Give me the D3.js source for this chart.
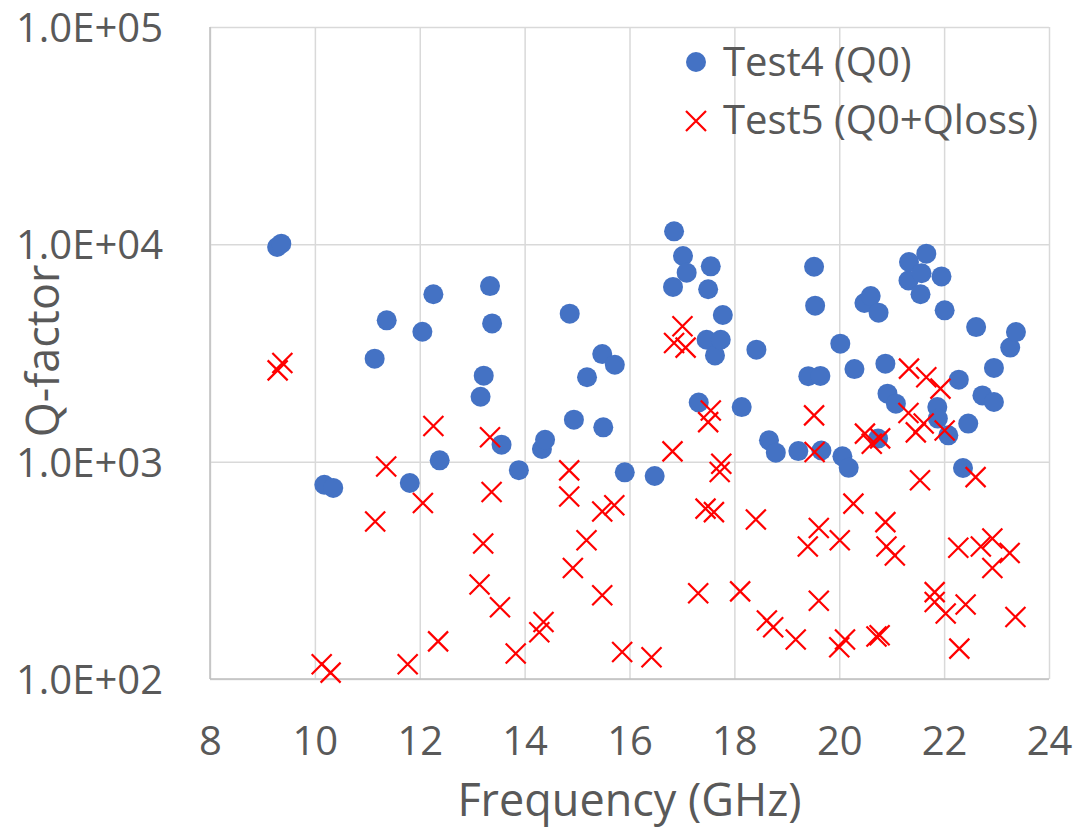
<!DOCTYPE html>
<html>
<head>
<meta charset="utf-8">
<script src="https://cdn.jsdelivr.net/npm/d3@7"></script>
<style>
  html, body { margin: 0; padding: 0; background: #ffffff; }
  svg { display: block; }
</style>
</head>
<body>
<svg id="chart" width="1076" height="828"></svg>
<script>
// ---- Data ----
const xTicks = [8, 10, 12, 14, 16, 18, 20, 22, 24];
const yTicks = [100, 1000, 10000, 100000];
const yTickLabels = ["1.0E+02", "1.0E+03", "1.0E+04", "1.0E+05"];
const seriesNames = ["Test4 (Q0)", "Test5 (Q0+Qloss)"];
const xTitle = "Frequency (GHz)";
const yTitle = "Q-factor";

// Test4 (Q0): frequency (GHz), Q
const test4Freq = [9.28, 9.36, 10.18, 10.35, 11.14, 11.37, 11.81, 12.05, 12.26, 12.38,
  13.16, 13.22, 13.34, 13.38, 13.56, 13.89, 14.33, 14.39, 14.86, 14.94,
  15.19, 15.48, 15.50, 15.72, 15.91, 16.48, 16.83, 16.85, 17.02, 17.09,
  17.32, 17.47, 17.50, 17.55, 17.63, 17.74, 17.78, 18.14, 18.42, 18.66,
  18.79, 19.22, 19.41, 19.52, 19.54, 19.64, 19.66, 20.02, 20.06, 20.18,
  20.29, 20.48, 20.60, 20.74, 20.75, 20.88, 20.92, 21.08, 21.32, 21.33,
  21.55, 21.57, 21.66, 21.87, 21.88, 21.95, 22.01, 22.08, 22.28, 22.36,
  22.46, 22.61, 22.73, 22.95, 22.95, 23.26, 23.37];
const test4Q = [9720, 10070, 783, 757, 2978, 4470, 798, 3963, 5890, 1014,
  1990, 2488, 6427, 4326, 1197, 914, 1143, 1261, 4798, 1560,
  2447, 3127, 1439, 2793, 893, 859, 6370, 11480, 8835, 7410,
  1872, 3640, 6210, 7920, 3082, 3640, 4730, 1783, 3275, 1254,
  1100, 1119, 2474, 7890, 5220, 2480, 1125, 3490, 1058, 937,
  2666, 5370, 5780, 1277, 4850, 2825, 2056, 1849, 6820, 8290,
  5890, 7360, 9060, 1783, 1578, 7120, 4970, 1322, 2384, 935,
  1497, 4160, 2018, 2700, 1881, 3350, 3947];

// Test5 (Q0+Qloss): frequency (GHz), Q
const test5Freq = [9.29, 9.38, 10.13, 10.30, 11.15, 11.36, 11.77, 12.06, 12.26, 12.35,
  13.14, 13.21, 13.34, 13.37, 13.53, 13.83, 14.28, 14.36, 14.85, 14.85,
  14.92, 15.18, 15.48, 15.48, 15.71, 15.86, 16.42, 16.82, 16.85, 17.01,
  17.07, 17.31, 17.45, 17.50, 17.55, 17.61, 17.72, 17.75, 18.11, 18.41,
  18.62, 18.74, 19.17, 19.40, 19.52, 19.53, 19.61, 19.61, 20.00, 20.01,
  20.11, 20.27, 20.49, 20.62, 20.71, 20.77, 20.78, 20.88, 20.90, 21.06,
  21.32, 21.33, 21.46, 21.54, 21.61, 21.66, 21.82, 21.82, 21.93, 22.01,
  22.03, 22.27, 22.29, 22.41, 22.60, 22.70, 22.92, 22.92, 23.25, 23.36];
const test5Q = [2630, 2846, 117, 107, 531, 951, 117, 645, 1460, 149,
  272, 420, 1295, 725, 214, 131, 164, 183, 912, 692,
  324, 435, 590, 243, 630, 133, 126, 1115, 3515, 4200,
  3348, 248, 608, 1520, 1721, 586, 896, 979, 253, 542,
  186, 173, 152, 407, 1633, 1107, 495, 229, 140, 435,
  152, 641, 1346, 1210, 157, 159, 1280, 527, 407, 370,
  1675, 2680, 1364, 821, 1497, 2447, 251, 226, 2168, 1392,
  200, 402, 138, 220, 849, 407, 443, 324, 380, 193];

// ---- Layout ----
const svg = d3.select("#chart");
const L = 210, R = 1049, T = 27, B = 679;
const FONT = "'Open Sans', sans-serif";
const textColor = "#595959";
const gridColor = "#d9d9d9";
const blue = "#4472C4";
const red = "#FF0000";

const x = d3.scaleLinear().domain([8, 24]).range([L, R]);
const y = d3.scaleLog().domain([100, 100000]).range([B, T]);

// Gridlines
const gx = svg.append("g")
  .attr("transform", `translate(0,${B})`)
  .call(d3.axisBottom(x).tickValues(xTicks).tickSize(-(B - T)).tickFormat(""));
gx.select(".domain").remove();
gx.selectAll(".tick line").attr("stroke", gridColor).attr("stroke-width", 1.5);

const gy = svg.append("g")
  .attr("transform", `translate(${L},0)`)
  .call(d3.axisLeft(y).tickValues(yTicks).tickSize(-(R - L)).tickFormat(""));
gy.select(".domain").remove();
gy.selectAll(".tick line").attr("stroke", gridColor).attr("stroke-width", 1.5);

// Axis lines (left and bottom)
svg.append("line").attr("x1", L).attr("x2", L).attr("y1", T).attr("y2", B)
  .attr("stroke", "#bfbfbf").attr("stroke-width", 1.5);
svg.append("line").attr("x1", L).attr("x2", R).attr("y1", B).attr("y2", B)
  .attr("stroke", "#bfbfbf").attr("stroke-width", 1.5);

// Tick labels via axes
const xLab = svg.append("g")
  .attr("transform", `translate(0,${B})`)
  .call(d3.axisBottom(x).tickValues(xTicks).tickSize(0).tickPadding(0).tickFormat(d3.format("d")));
xLab.select(".domain").remove();
xLab.selectAll("text")
  .attr("dy", null).attr("y", 76)
  .attr("font-family", FONT).attr("font-size", 40).attr("fill", textColor);

const yLab = svg.append("g")
  .attr("transform", `translate(${L},0)`)
  .call(d3.axisLeft(y).tickValues(yTicks).tickSize(0).tickPadding(0)
    .tickFormat((d, i) => yTickLabels[i]));
yLab.select(".domain").remove();
yLab.selectAll("text")
  .attr("x", -47).attr("dy", "0.36em")
  .attr("font-family", FONT).attr("font-size", 40).attr("fill", textColor);

// Axis titles
svg.append("text")
  .attr("x", (L + R) / 2).attr("y", 816)
  .attr("text-anchor", "middle")
  .attr("font-family", FONT).attr("font-size", 45).attr("fill", textColor)
  .text(xTitle);

svg.append("text")
  .attr("transform", `translate(59,${351}) rotate(-90)`)
  .attr("text-anchor", "middle")
  .attr("font-family", FONT).attr("font-size", 45).attr("fill", textColor)
  .text(yTitle);

// Series data
const test4 = test4Freq.map((f, i) => ({ f: f, q: test4Q[i] }));
const test5 = test5Freq.map((f, i) => ({ f: f, q: test5Q[i] }));

// Test4 circles
svg.append("g").selectAll("circle").data(test4).join("circle")
  .attr("cx", d => x(d.f)).attr("cy", d => y(d.q)).attr("r", 10)
  .attr("fill", blue);

// Test5 crosses
const xs = 10;
const crossPath = `M${-xs},${-xs}L${xs},${xs}M${-xs},${xs}L${xs},${-xs}`;
svg.append("g").selectAll("path").data(test5).join("path")
  .attr("transform", d => `translate(${x(d.f)},${y(d.q)})`)
  .attr("d", crossPath)
  .attr("stroke", red).attr("stroke-width", 2.2).attr("fill", "none");

// Legend
const lg = svg.append("g");
lg.append("circle").attr("cx", 696).attr("cy", 62).attr("r", 10).attr("fill", blue);
lg.append("path").attr("transform", "translate(696,121)").attr("d", crossPath)
  .attr("stroke", red).attr("stroke-width", 2.2).attr("fill", "none");
lg.append("text").attr("x", 723).attr("y", 76)
  .attr("font-family", FONT).attr("font-size", 40).attr("fill", textColor).text(seriesNames[0]);
lg.append("text").attr("x", 723).attr("y", 134)
  .attr("font-family", FONT).attr("font-size", 40).attr("fill", textColor).text(seriesNames[1]);
</script>
</body>
</html>
